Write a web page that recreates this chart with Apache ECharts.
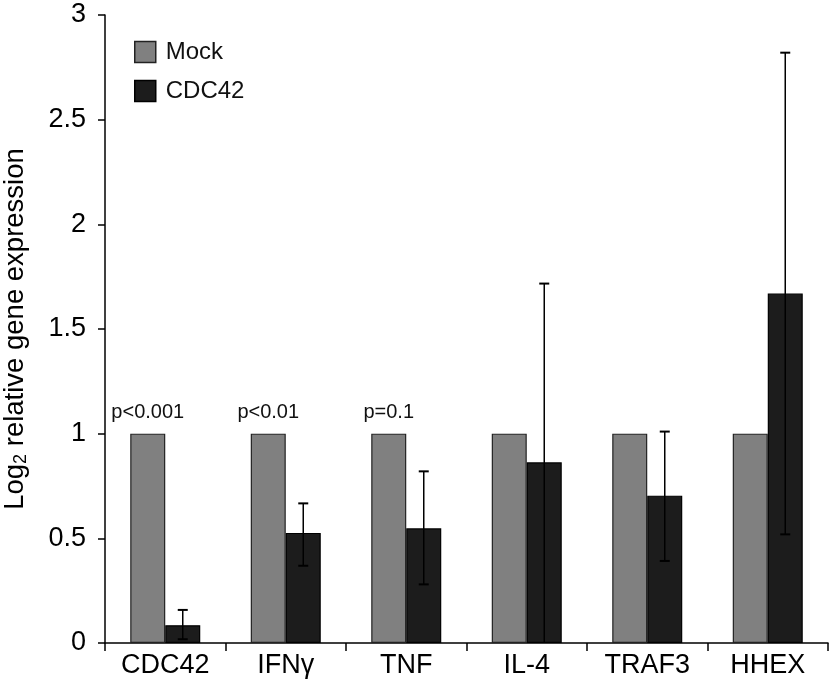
<!DOCTYPE html>
<html>
<head>
<meta charset="utf-8">
<script src="https://cdn.jsdelivr.net/npm/echarts@6/dist/echarts.min.js"></script>
<style>html,body{margin:0;padding:0;background:#fff}#c{width:829px;height:686px}</style>
</head>
<body>
<div id="c"></div>
<script>
var categories = ['CDC42', 'IFNγ', 'TNF', 'IL-4', 'TRAF3', 'HHEX'];
var mockValues = [1, 1, 1, 1, 1, 1];
var cdc42Values = [0.085, 0.526, 0.548, 0.863, 0.704, 1.669];
var errLow = [0.018, 0.369, 0.28, 0, 0.392, 0.519];
var errHigh = [0.158, 0.667, 0.82, 1.717, 1.01, 2.82];
var pLabels = ['p<0.001', 'p<0.01', 'p=0.1', '', '', ''];
var yTicks = [0, 0.5, 1, 1.5, 2, 2.5, 3];

var BAR_W = 35;
var font = 'Liberation Sans, Arial, Helvetica, sans-serif';
var chart = echarts.init(document.getElementById('c'));

var mockData = mockValues.map(function (v, i) {
  return {
    value: v,
    label: {
      show: pLabels[i] !== '',
      formatter: pLabels[i],
      position: 'top',
      distance: 11,
      fontSize: 20,
      color: '#111',
      fontFamily: font
    }
  };
});

var errData = categories.map(function (c, i) { return [i, errLow[i], errHigh[i]]; });

chart.setOption({
  animation: false,
  backgroundColor: '#fff',
  grid: { left: 105, right: 1, top: 15, bottom: 43, containLabel: false, outerBoundsMode: 'none' },
  legend: {
    orient: 'vertical',
    left: 129,
    top: 35,
    itemWidth: 21,
    itemHeight: 21,
    itemGap: 15,
    icon: 'rect',
    textStyle: { fontSize: 24, color: '#111', fontFamily: font, padding: [0, 0, 0, 5] },
    data: [
      { name: 'Mock', itemStyle: { color: '#808080', borderColor: '#222', borderWidth: 1.5 } },
      { name: 'CDC42', itemStyle: { color: '#1c1c1c', borderColor: '#000', borderWidth: 1.5 } }
    ]
  },
  xAxis: {
    type: 'category',
    data: categories,
    axisLine: { lineStyle: { color: '#000', width: 1.5 } },
    axisTick: { show: true, length: 8, lineStyle: { color: '#000', width: 1.5 } },
    axisLabel: { fontSize: 27, color: '#000', fontFamily: font, margin: 9 }
  },
  yAxis: {
    type: 'value',
    min: yTicks[0],
    max: yTicks[yTicks.length - 1],
    interval: 0.5,
    name: '{a|Log}{b|2}{a| relative gene expression}',
    nameLocation: 'middle',
    nameGap: 76,
    nameTextStyle: {
      rich: {
        a: { fontSize: 27.5, color: '#000', fontFamily: font },
        b: { fontSize: 18, color: '#000', fontFamily: font, padding: [0, 0, -12, 0] }
      }
    },
    axisLine: { show: true, lineStyle: { color: '#000', width: 1.5 } },
    axisTick: { show: true, length: 7, lineStyle: { color: '#000', width: 1.5 } },
    axisLabel: { fontSize: 27, color: '#000', fontFamily: font, margin: 19 },
    splitLine: { show: false }
  },
  series: [
    {
      name: 'Mock',
      type: 'bar',
      barWidth: BAR_W,
      barGap: '0%',
      data: mockData,
      itemStyle: { color: '#808080', borderColor: '#222', borderWidth: 1.2 }
    },
    {
      name: 'CDC42',
      type: 'bar',
      barWidth: BAR_W,
      barGap: '0%',
      data: cdc42Values,
      itemStyle: { color: '#1c1c1c', borderColor: '#000', borderWidth: 1.2 }
    },
    {
      name: 'err',
      type: 'custom',
      data: errData,
      z: 10,
      renderItem: function (params, api) {
        var idx = api.value(0);
        var lo = api.coord([idx, api.value(1)]);
        var hi = api.coord([idx, api.value(2)]);
        var x = lo[0] + BAR_W / 2;
        var cap = 5;
        var children = [
          { type: 'line', shape: { x1: x, y1: lo[1], x2: x, y2: hi[1] }, style: { stroke: '#000', lineWidth: 1.5 } },
          { type: 'line', shape: { x1: x - cap, y1: hi[1], x2: x + cap, y2: hi[1] }, style: { stroke: '#000', lineWidth: 2 } }
        ];
        if (api.value(1) > 0) {
          children.push({ type: 'line', shape: { x1: x - cap, y1: lo[1], x2: x + cap, y2: lo[1] }, style: { stroke: '#000', lineWidth: 2 } });
        }
        return { type: 'group', children: children };
      }
    }
  ]
});
</script>
</body>
</html>
